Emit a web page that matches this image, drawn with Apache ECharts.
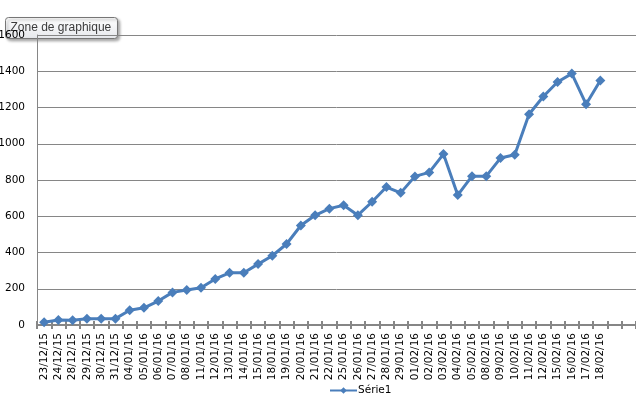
<!DOCTYPE html>
<html>
<head>
<meta charset="utf-8">
<script src="https://cdn.jsdelivr.net/npm/echarts@6/dist/echarts.min.js"></script>
<style>html,body{margin:0;padding:0;background:#fff}#c{width:636px;height:401px}</style>
</head>
<body>
<div id="c"></div>
<script>
const categories = ['23/12/15','24/12/15','28/12/15','29/12/15','30/12/15','31/12/15','04/01/16','05/01/16','06/01/16','07/01/16','08/01/16','11/01/16','12/01/16','13/01/16','14/01/16','15/01/16','18/01/16','19/01/16','20/01/16','21/01/16','22/01/16','25/01/16','26/01/16','27/01/16','28/01/16','29/01/16','01/02/16','02/02/16','03/02/16','04/02/16','05/02/16','08/02/16','09/02/16','10/02/16','11/02/16','12/02/16','15/02/16','16/02/16','17/02/16','18/02/16','',''];
const values = [15,27,26,35,35,35,81,95,132,180,193,206,254,288,288,336,382,447,549,605,642,661,606,680,761,729,820,842,943,717,821,821,921,939,1163,1261,1341,1387,1218,1349];
const seriesName = 'Série1';
const yTicks = {min: 0, max: 1600, interval: 200};

const chart = echarts.init(document.getElementById('c'));
const gray = '#868686';
const blue = '#4a7ebb';
chart.setOption({
  animation: false,
  grid: {left: 37, right: 0, top: 35, bottom: 76, containLabel: false, outerBoundsMode: 'none'},
  xAxis: [{
    type: 'category', data: categories, boundaryGap: true, position: 'bottom',
    axisLine: {lineStyle: {color: gray, width: 2}},
    axisTick: {show: true, interval: 0, length: 4, lineStyle: {color: gray, width: 2}},
    axisLabel: {interval: 0, rotate: 90, margin: 8, fontFamily: 'DejaVu Sans', fontSize: 10.5, color: '#000'},
    splitLine: {show: false}
  }, {
    type: 'category', data: categories, boundaryGap: true, position: 'bottom', offset: 0,
    axisLine: {show: false},
    axisTick: {show: true, inside: true, interval: 0, length: 4, lineStyle: {color: gray, width: 2}},
    axisLabel: {show: false}, splitLine: {show: false}
  }],
  yAxis: {
    type: 'value', min: yTicks.min, max: yTicks.max, interval: yTicks.interval,
    axisLine: {show: true, lineStyle: {color: gray, width: 1}},
    axisTick: {show: false},
    axisLabel: {margin: 12, fontFamily: 'DejaVu Sans', fontSize: 10.5, color: '#000', formatter: v => String(v)},
    splitLine: {lineStyle: {color: gray, width: 1}}
  },
  legend: {
    left: 329, top: 385, padding: 0, itemWidth: 27, itemHeight: 8, itemGap: 4,
    textStyle: {fontFamily: 'DejaVu Sans', fontSize: 10.5, color: '#000', padding: [0,0,0,-4]},
    data: [seriesName]
  },
  series: [{
    name: seriesName, type: 'line', data: values, xAxisIndex: 0,
    symbol: 'diamond', symbolSize: 10, showSymbol: true,
    lineStyle: {color: blue, width: 3},
    itemStyle: {color: blue}
  }],
  graphic: [{
    type: 'group', left: 5, top: 17, z: 100,
    children: [{
      type: 'rect', shape: {x: 0, y: 0, width: 112, height: 21, r: 3},
      style: {
        fill: new echarts.graphic.LinearGradient(0, 0, 0, 1, [{offset: 0, color: '#ffffff'}, {offset: 1, color: '#e6e8ec'}]),
        stroke: '#767676', lineWidth: 1,
        shadowBlur: 3, shadowColor: 'rgba(0,0,0,0.35)', shadowOffsetX: 2, shadowOffsetY: 2
      }
    }, {
      type: 'text', x: 5, y: 10.5,
      style: {text: 'Zone de graphique', fontFamily: 'Liberation Sans', fontSize: 12, fill: '#3c3c3c', verticalAlign: 'middle'}
    }]
  }]
});
</script>
</body>
</html>
